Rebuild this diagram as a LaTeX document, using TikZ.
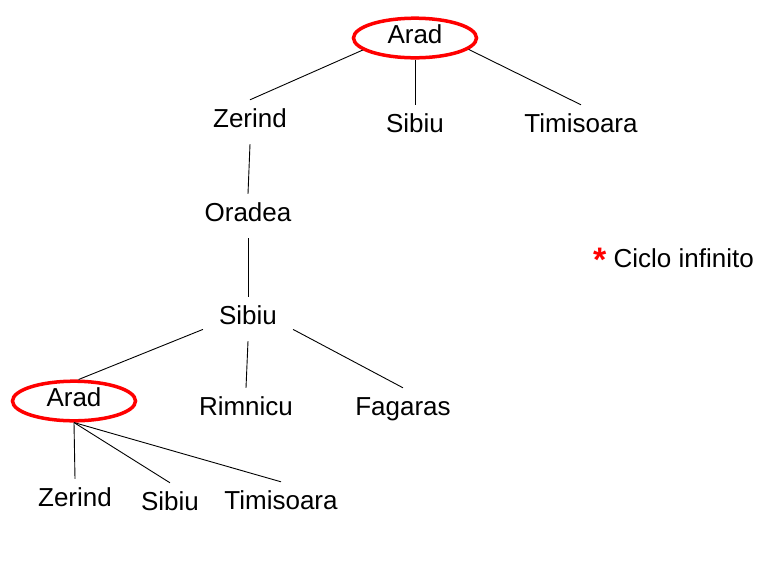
\documentclass[tikz,border=0pt]{standalone}
\usepackage{fontspec}
\setmainfont{Liberation Sans}
\usetikzlibrary{shapes.geometric}

\tikzset{
  city/.style={font=\fontsize{26}{30}\selectfont, text height=19pt, text depth=9pt,
    inner xsep=10pt, inner ysep=8pt},
  ring/.style={city, ellipse, draw=red, line width=3.5pt, inner sep=0pt,
    minimum width=123pt, minimum height=39pt},
  edge/.style={line width=0.9pt}
}

\begin{document}
\begin{tikzpicture}[x=1pt, y=-1pt]
\useasboundingbox (0,0) rectangle (777,566);

% Level 0
\node[ring] (aradA) at (415,38) {Arad};

% Level 1
\node[city] (zerindA) at (250,122) {Zerind};
\node[city] (sibiuA) at (415,127) {Sibiu};
\node[city] (timisoaraA) at (581,127) {Timisoara};

% Level 2 and 3
\node[city] (oradea) at (248,216) {Oradea};
\node[city, inner xsep=16pt] (sibiuB) at (248,319) {Sibiu};

% Level 4
\node[ring] (aradB) at (74,401) {Arad};
\node[city] (rimnicu) at (246,410) {Rimnicu};
\node[city] (fagaras) at (403,410) {Fagaras};

% Level 5
\node[city] (zerindB) at (75,501) {Zerind};
\node[city] (sibiuC) at (170,505) {Sibiu};
\node[city] (timisoaraB) at (281,504) {Timisoara};

% Note
\node[city, anchor=west, inner xsep=0pt] (note) at (593,262)
  {\textcolor{red}{\fontsize{34}{31}\selectfont\raisebox{-4pt}{\textbf{*}}} Ciclo infinito};

% Edges
\draw[edge] (aradA.193) -- (zerindA.north);
\draw[edge] (aradA.south) -- (sibiuA.north);
\draw[edge] (aradA.348) -- (timisoaraA.north);
\draw[edge] (zerindA.south) -- (oradea.north);
\draw[edge] (oradea.south) -- (sibiuB.north);
\draw[edge] (sibiuB.193) -- (aradB.78);
\draw[edge] (sibiuB.south) -- (rimnicu.north);
\draw[edge] (sibiuB.-13) -- (fagaras.north);
\draw[edge] (aradB.south) -- (zerindB.north);
\draw[edge] (aradB.south) -- (sibiuC.north);
\draw[edge] (aradB.south) -- (timisoaraB.north);
\end{tikzpicture}
\end{document}
